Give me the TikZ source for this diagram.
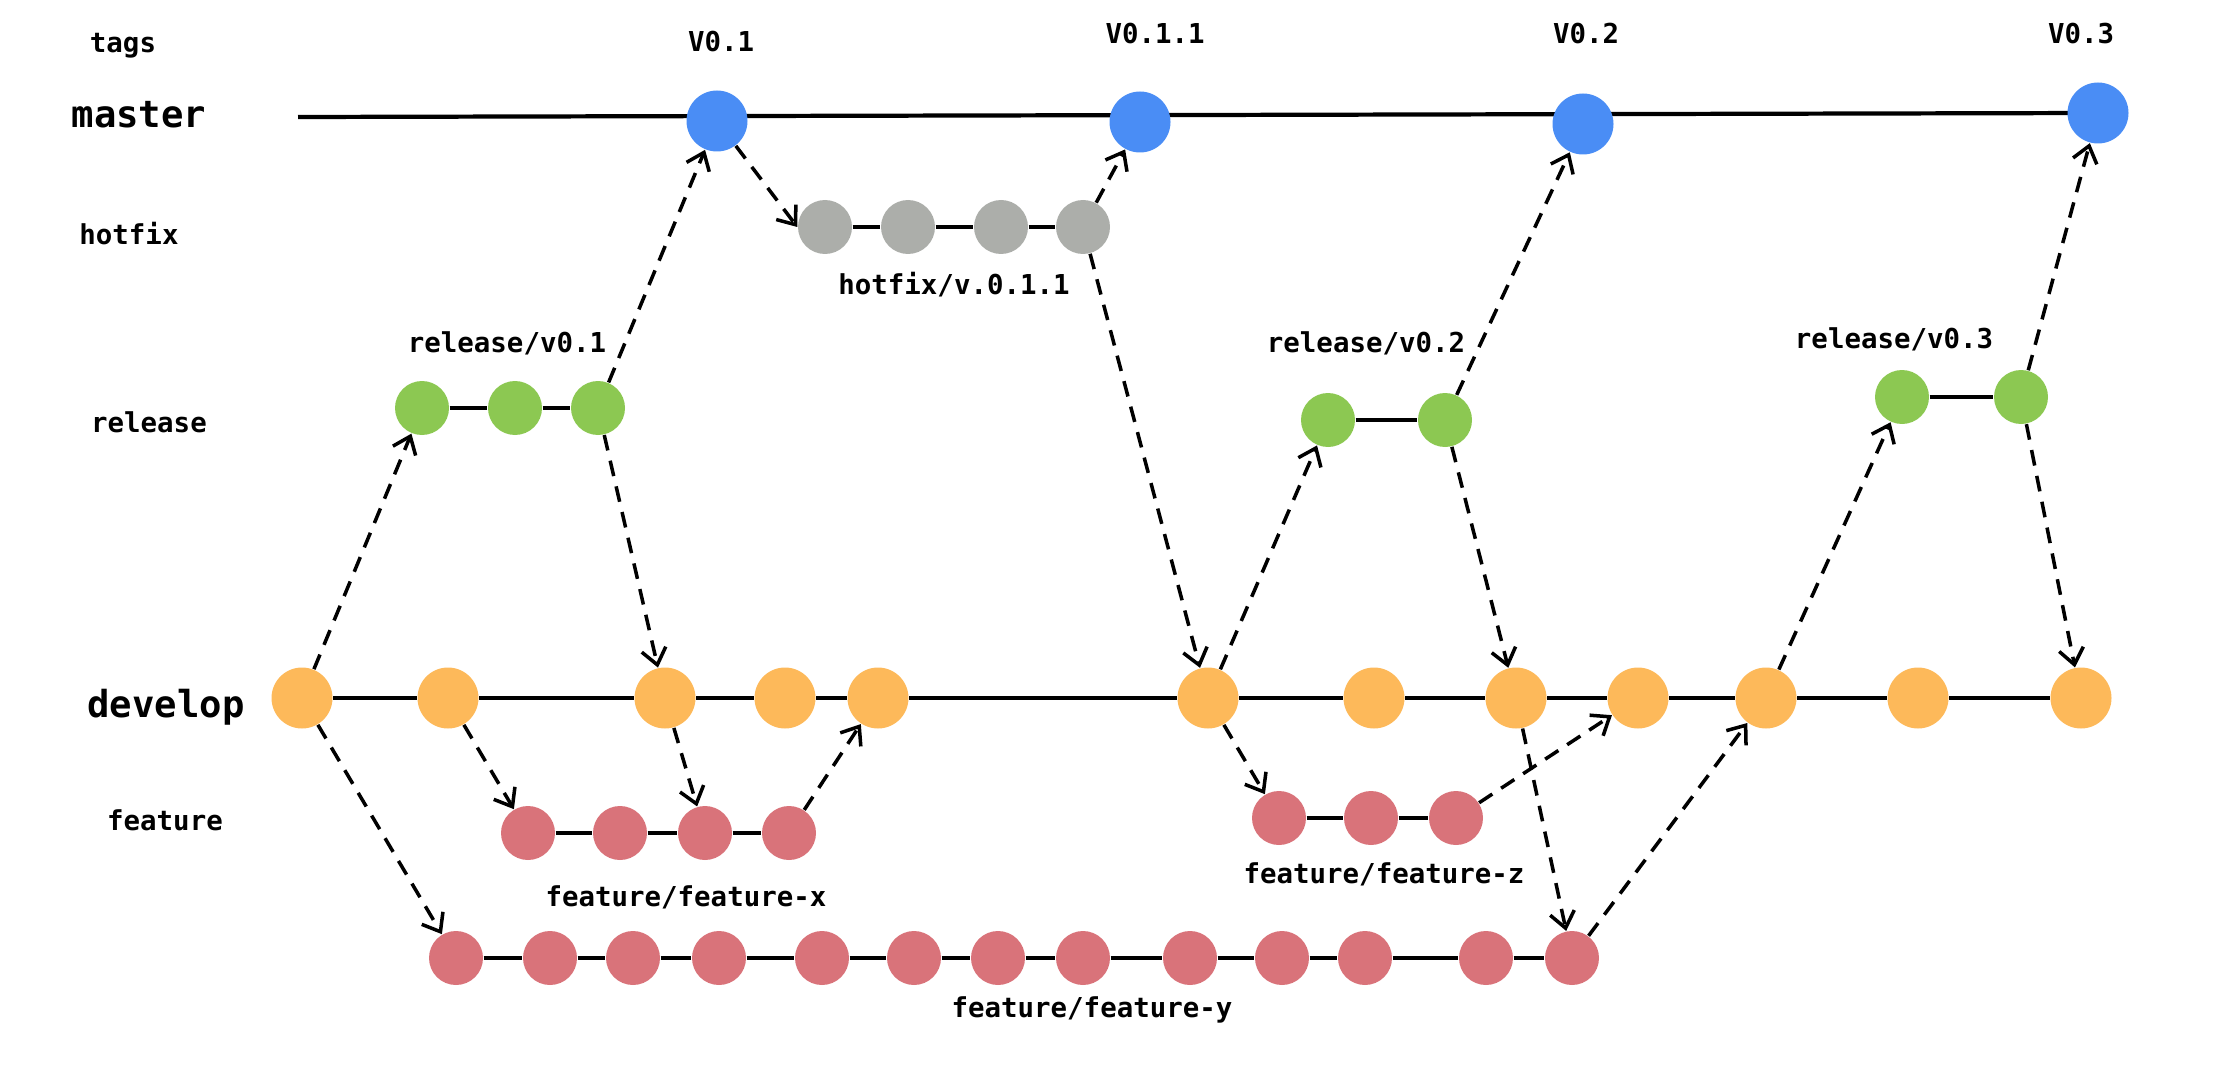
\documentclass[tikz,border=0pt]{standalone}
\usepackage{fontspec}
\setmonofont{DejaVu Sans Mono}
\usetikzlibrary{arrows.meta,backgrounds}

\definecolor{mblue}{RGB}{74,141,245}
\definecolor{rgreen}{RGB}{140,200,82}
\definecolor{hgray}{RGB}{172,174,170}
\definecolor{dorange}{RGB}{253,185,90}
\definecolor{fred}{RGB}{217,115,122}

\tikzset{
	commit/.style={circle,inner sep=0pt,minimum size=5.4mm},
	bigcommit/.style={commit,minimum size=6.1mm},
	lbl/.style={anchor=base,font=\ttfamily\bfseries\fontsize{7.8}{9}\selectfont},
	branchname/.style={anchor=base,font=\ttfamily\bfseries\fontsize{10.6}{12}\selectfont},
	trunk/.style={line width=1.2pt},
	merge/.style={line width=1pt,dash pattern=on 4.5pt off 3pt,-{Straight Barb[length=4.5pt,width=7pt]}}
}

\begin{document}
\begin{tikzpicture}[x=0.1mm,y=-0.1mm]
	\useasboundingbox (0,0) rectangle (2229,1076);
	% branch names
	\node[lbl] (ltags) at (123,53) {tags};
	\node[branchname] (lmaster) at (139,128) {master};
	\node[lbl] (lhotfix) at (129,245) {hotfix};
	\node[lbl] (lrelease) at (149,432) {release};
	\node[branchname] (ldevelop) at (166,717) {develop};
	\node[lbl] (lfeature) at (165,830) {feature};
	% commits
	\coordinate (m0) at (298,117);
	\foreach \n/\x/\y in {m1/717/121,m2/1140/122,m3/1583/124,m4/2098/113}
		\node[bigcommit,fill=mblue] (\n) at (\x,\y) {};
	\foreach \n/\x in {h1/825,h2/908,h3/1001,h4/1083}
		\node[commit,fill=hgray] (\n) at (\x,227) {};
	\foreach \n/\x/\y in {r1/422/408,r2/515/408,r3/598/408,s1/1328/420,s2/1445/420,t1/1902/397,t2/2021/397}
		\node[commit,fill=rgreen] (\n) at (\x,\y) {};
	\foreach \n/\x in {d1/302,d2/448,d3/665,d4/785,d5/878,d6/1208,d7/1374,d8/1516,d9/1638,d10/1766,d11/1918,d12/2081}
		\node[bigcommit,fill=dorange] (\n) at (\x,698) {};
	\foreach \n/\x in {x1/528,x2/620,x3/705,x4/789}
		\node[commit,fill=fred] (\n) at (\x,833) {};
	\foreach \n/\x in {z1/1279,z2/1371,z3/1456}
		\node[commit,fill=fred] (\n) at (\x,818) {};
	\foreach \n/\x in {y1/456,y2/550,y3/633,y4/719,y5/822,y6/914,y7/998,y8/1083,y9/1190,y10/1282,y11/1365,y12/1486,y13/1572}
		\node[commit,fill=fred] (\n) at (\x,958) {};
	% branch lines
	\begin{scope}[on background layer]
		\draw[trunk] (m0) -- (m4.center);
	\end{scope}
	\draw[trunk] (h1) -- (h2) -- (h3) -- (h4);
	\draw[trunk] (r1) -- (r2) -- (r3) (s1) -- (s2) (t1) -- (t2);
	\draw[trunk] (d1) -- (d2) -- (d3) -- (d4) -- (d5) -- (d6) -- (d7) -- (d8) -- (d9) -- (d10) -- (d11) -- (d12);
	\draw[trunk] (x1) -- (x2) -- (x3) -- (x4) (z1) -- (z2) -- (z3);
	\draw[trunk] (y1) -- (y2) -- (y3) -- (y4) -- (y5) -- (y6) -- (y7) -- (y8) -- (y9) -- (y10) -- (y11) -- (y12) -- (y13);
	% tags and branch labels
	\foreach \n/\x/\y/\t in {v1/721/52/V0.1,v2/1155/44/V0.1.1,v3/1586/44/V0.2,v4/2081/44/V0.3}
		\node[lbl] (\n) at (\x,\y) {\t};
	\node[lbl] (lh) at (954,295) {hotfix/v.0.1.1};
	\node[lbl] (lr1) at (507,353) {release/v0.1};
	\node[lbl] (lr2) at (1366,353) {release/v0.2};
	\node[lbl] (lr3) at (1894,348) {release/v0.3};
	\node[lbl] (lfx) at (686,906) {feature/feature-x};
	\node[lbl] (lfz) at (1384,883) {feature/feature-z};
	\node[lbl] (lfy) at (1092,1017) {feature/feature-y};
	% merges
	\foreach \a/\b in {d1/r1,r3/m1,r3/d3,m1/h1.west,h4/m2,h4/d6,d6/s1,s2/m3,s2/d8,d6/z1,z3/d9,d8/y13,y13/d10,d10/t1,t2/m4,t2/d12,d1/y1,d2/x1,d3/x3,x4/d5}
		\draw[merge] (\a) -- (\b);
\end{tikzpicture}
\end{document}
